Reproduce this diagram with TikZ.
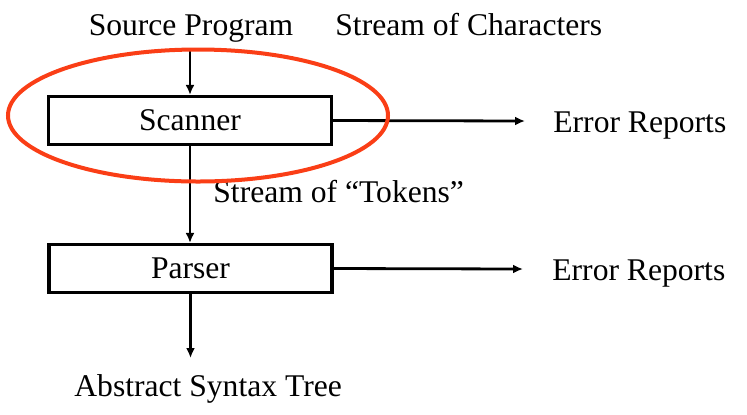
\documentclass[tikz,border=0pt]{standalone}
\usepackage{fontspec}
\setmainfont{Liberation Serif}
\usetikzlibrary{arrows.meta}
\usetikzlibrary{positioning}
\tikzset{x=0.5pt, y=-0.5pt, >={Latex[length=5pt,width=4.5pt]}, font=\fontsize{15.8}{18}\selectfont}
\definecolor{hilite}{RGB}{250,62,22}
\tikzstyle{block} = [draw, line width=1.6pt, rectangle, minimum width=141.5pt, minimum height=24pt, inner sep=0pt, text centered]
\tikzstyle{txt} = [inner sep=0pt, anchor=base west]
\tikzstyle{flow} = [->, line width=1.4pt]
\tikzstyle{output} = [coordinate]

\begin{document}
\begin{tikzpicture}
    \useasboundingbox (0,0) rectangle (747,414);
    \node [block] (scanner) at (190,120.5) {Scanner};
    \node [block] (parser) at (190.5,268.5) {Parser};
    \node [txt, anchor=base] (source) at (191,35) {Source Program};
    \node [txt] (chars) at (335,35) {Stream of Characters};
    \node [txt] (tokens) at (213,202) {Stream of ``Tokens''};
    \node [txt] (ast) at (74,396) {Abstract Syntax Tree};
    \node [txt] (err_s) at (553,132) {Error Reports};
    \node [txt] (err_p) at (552,280) {Error Reports};
    \node [output] (scan_out) at (525,121) {};
    \node [output] (parse_out) at (523,269) {};
    \node [output] (ast_in) at (190.5,358) {};
    \node [output] (src_out) at (190,50) {};
    
    \draw [flow] (src_out) -- (scanner.north);
    \draw [flow] (scanner.east) -- (scan_out);
    \draw [flow] (scanner.south) -- (parser.north -| scanner.south);
    \draw [flow] (parser.east) -- (parse_out);
    \draw [flow] (parser.south) -- (ast_in);
    % scanner highlight
    \draw [hilite, line width=2pt] (198,115.5) ellipse [x radius=190, y radius=66];
\end{tikzpicture}
\end{document}
